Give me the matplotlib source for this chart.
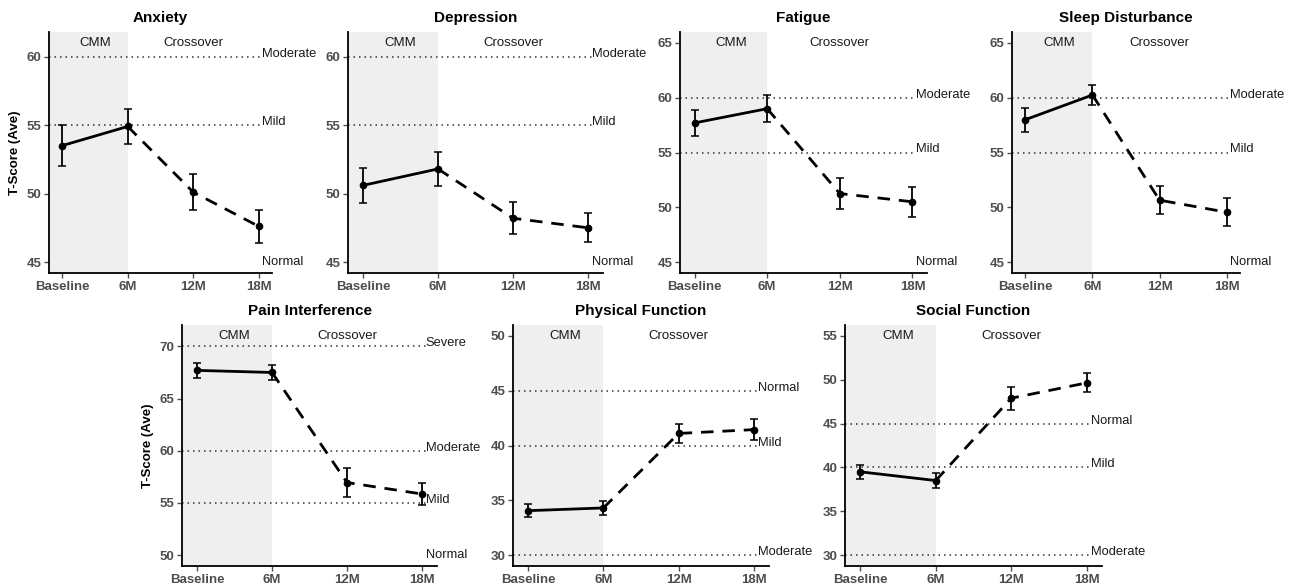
"""
PROMIS T-scores over time: CMM phase then crossover, seven domains.
"""

import matplotlib.pyplot as plt

plt.rcParams['font.family'] = ['Liberation Sans', 'DejaVu Sans']

# time points on the x axis
timepoints = ["Baseline", "6M", "12M", "18M"]

# mean T-score and error (half width of the bar) for each domain
anxiety_mean = [53.5, 54.9, 50.1, 47.6]
anxiety_err = [1.5, 1.3, 1.3, 1.2]

depression_mean = [50.6, 51.8, 48.2, 47.5]
depression_err = [1.3, 1.25, 1.15, 1.05]

fatigue_mean = [57.7, 59.0, 51.25, 50.5]
fatigue_err = [1.15, 1.25, 1.45, 1.35]

sleep_mean = [58.0, 60.25, 50.65, 49.55]
sleep_err = [1.1, 0.9, 1.25, 1.3]

pain_mean = [67.7, 67.5, 56.95, 55.85]
pain_err = [0.75, 0.7, 1.35, 1.1]

physical_mean = [34.05, 34.3, 41.1, 41.45]
physical_err = [0.6, 0.6, 0.85, 0.95]

social_mean = [39.5, 38.5, 47.9, 49.65]
social_err = [0.8, 0.85, 1.3, 1.1]

# severity thresholds: (value, label, draw dotted line?)
anxiety_levels = [(60, "Moderate", True), (55, "Mild", True), (45, "Normal", False)]
depression_levels = [(60, "Moderate", True), (55, "Mild", True), (45, "Normal", False)]
fatigue_levels = [(60, "Moderate", True), (55, "Mild", True), (45, "Normal", False)]
sleep_levels = [(60, "Moderate", True), (55, "Mild", True), (45, "Normal", False)]
pain_levels = [(70, "Severe", True), (60, "Moderate", True), (55, "Mild", True), (50, "Normal", False)]
physical_levels = [(45, "Normal", True), (40, "Mild", True), (30, "Moderate", True)]
social_levels = [(45, "Normal", True), (40, "Mild", True), (30, "Moderate", True)]

W, H = 1296, 586
TICK_GRAY = '#4D4D4D'


def px_axes(fig, left, top, right, bottom):
    """Add axes given pixel edges measured from the top-left corner."""
    return fig.add_axes([left / W, (H - bottom) / H, (right - left) / W, (bottom - top) / H])


def draw_panel(ax, title, mean, err, levels, ylo, yhi, yticks, ylabel=False):
    x = list(range(len(timepoints)))
    pad = (yhi - ylo) * 0.05
    ax.set_xlim(-0.2, 3.2)
    ax.set_ylim(ylo - pad, yhi + pad)

    # CMM phase shading
    ax.axvspan(-0.2, 1, color='#EFEFEF', lw=0, zorder=0)
    ax.text(0.5, yhi, "CMM", ha='center', va='center', fontsize=9.5, color='#1a1a1a')
    ax.text(2, yhi, "Crossover", ha='center', va='center', fontsize=9.5, color='#1a1a1a')

    for val, lab, line in levels:
        if line:
            ax.plot([-0.2, 3.05], [val, val], ls=(0, (1, 2.6)), color='#333333', lw=1.1, zorder=1)
            ax.text(3.05, val, lab, ha='left', va='baseline', fontsize=9.3,
                    color='#1a1a1a', clip_on=False)
        else:
            ax.text(3.05, val, lab, ha='left', va='center', fontsize=9.3,
                    color='#1a1a1a', clip_on=False)

    # solid during CMM, dashed during crossover
    ax.plot(x[:2], mean[:2], color='black', lw=2.0, solid_capstyle='butt', zorder=3)
    ax.plot(x[1:], mean[1:], color='black', lw=2.0, dashes=(4.5, 3.2), zorder=3)
    ax.errorbar(x, mean, yerr=err, fmt='o', color='black', ms=4.5, elinewidth=1.3,
                capsize=3, capthick=1.1, zorder=4)

    ax.set_xticks(x)
    ax.set_xticklabels(timepoints)
    ax.set_yticks(yticks)
    ax.tick_params(axis='both', labelsize=9.5, colors=TICK_GRAY, length=3.5, width=1, pad=2)
    for lab in ax.get_xticklabels() + ax.get_yticklabels():
        lab.set_fontweight('bold')
    for side in ['top', 'right']:
        ax.spines[side].set_visible(False)
    for side in ['left', 'bottom']:
        ax.spines[side].set_linewidth(1.3)
        ax.spines[side].set_color('black')
    ax.set_title(title, fontsize=11, fontweight='bold', pad=7)
    if ylabel:
        ax.set_ylabel("T-Score (Ave)", fontsize=9.5, fontweight='bold', labelpad=4)


fig = plt.figure(figsize=(W / 100, H / 100), dpi=100)

top_row = (32, 273)
bot_row = (325, 566)

ax = px_axes(fig, 49, top_row[0], 272, top_row[1])
draw_panel(ax, "Anxiety", anxiety_mean, anxiety_err, anxiety_levels, 45, 61, [45, 50, 55, 60], ylabel=True)

ax = px_axes(fig, 348, top_row[0], 603, top_row[1])
draw_panel(ax, "Depression", depression_mean, depression_err, depression_levels, 45, 61, [45, 50, 55, 60])

ax = px_axes(fig, 680, top_row[0], 927, top_row[1])
draw_panel(ax, "Fatigue", fatigue_mean, fatigue_err, fatigue_levels, 45, 65, [45, 50, 55, 60, 65])

ax = px_axes(fig, 1012, top_row[0], 1240, top_row[1])
draw_panel(ax, "Sleep Disturbance", sleep_mean, sleep_err, sleep_levels, 45, 65, [45, 50, 55, 60, 65])

ax = px_axes(fig, 182, bot_row[0], 437, bot_row[1])
draw_panel(ax, "Pain Interference", pain_mean, pain_err, pain_levels, 50, 71, [50, 55, 60, 65, 70], ylabel=True)

ax = px_axes(fig, 513, bot_row[0], 769, bot_row[1])
draw_panel(ax, "Physical Function", physical_mean, physical_err, physical_levels, 30, 50, [30, 35, 40, 45, 50])

ax = px_axes(fig, 845, bot_row[0], 1102, bot_row[1])
draw_panel(ax, "Social Function", social_mean, social_err, social_levels, 30, 55, [30, 35, 40, 45, 50, 55])

fig.savefig("out.png", dpi=100, facecolor='white')
